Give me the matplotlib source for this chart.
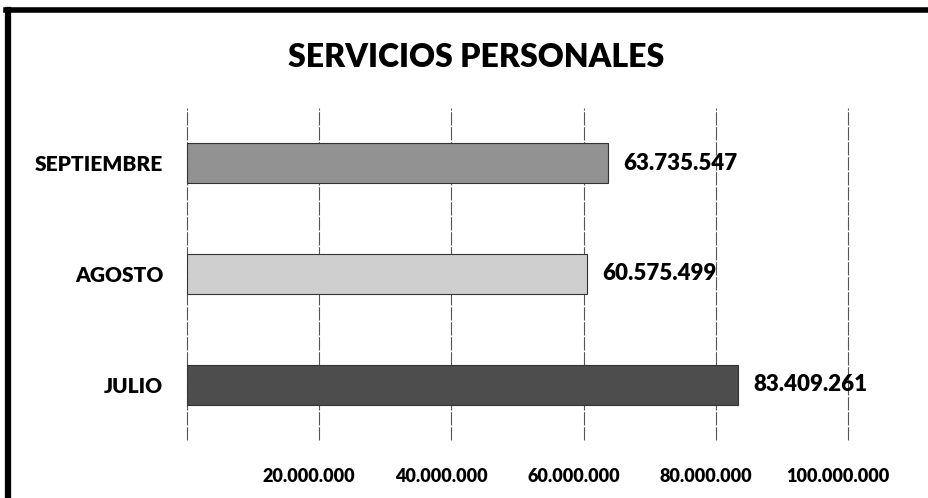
import matplotlib
matplotlib.use("Agg")
import matplotlib.pyplot as plt
import matplotlib.transforms as mtransforms
from matplotlib.lines import Line2D

# data
months = ["JULIO", "AGOSTO", "SEPTIEMBRE"]
values = [83409261, 60575499, 63735547]
bar_colors = ["#4d4d4d", "#cfcfcf", "#929292"]
ticks = [20000000, 40000000, 60000000, 80000000, 100000000]


def fmt(v):
    return f"{v:,}".replace(",", ".")


plt.rcParams["font.family"] = ["Lato", "DejaVu Sans"]

fig = plt.figure(figsize=(9.29, 4.98), dpi=100)
ax = fig.add_axes([0.2013, 0.1165, 0.7115, 0.6667])

ypos = range(len(months))
ax.barh(ypos, values, height=0.36, color=bar_colors,
        edgecolor="#333333", linewidth=0.8, zorder=3)

for y, v in zip(ypos, values):
    ax.annotate(fmt(v), (v, y), xytext=(11, 0), textcoords="offset points",
                va="center", ha="left", fontsize=16, fontweight="heavy")

ax.set_xlim(0, 100000000)
ax.set_ylim(-0.5, 2.5)
ax.set_yticks(list(ypos))
ax.set_yticklabels(months, fontsize=15, fontweight="heavy")
ax.set_xticks([0] + ticks)
ax.set_xticklabels([""] + [fmt(t) for t in ticks], fontsize=13, fontweight="heavy")
ax.tick_params(axis="both", length=0)
ax.tick_params(axis="y", pad=17)
ax.tick_params(axis="x", pad=20)

# excel puts tick labels a bit left of the gridlines
shift = mtransforms.ScaledTranslation(-10 / 100, 0, fig.dpi_scale_trans)
for lbl in ax.get_xticklabels():
    lbl.set_transform(lbl.get_transform() + shift)

ax.grid(axis="x", color="#555555", linewidth=0.8, linestyle=(0, (12, 1.5)), zorder=0)
for gl in ax.get_xgridlines():
    gl.set_clip_on(False)
for s in ax.spines.values():
    s.set_visible(False)

fig.text(0.512, 0.885, "SERVICIOS PERSONALES", ha="center", va="center",
         fontsize=23, fontweight="heavy")

# frame from the scanned sheet
fig.add_artist(Line2D([8 / 929, 8 / 929], [0, 1 - 10 / 498], color="black",
                      linewidth=4.5, transform=fig.transFigure))
fig.add_artist(Line2D([6 / 929, 1], [1 - 10.5 / 498, 1 - 10.5 / 498], color="black",
                      linewidth=4, transform=fig.transFigure))

fig.savefig("out.png", dpi=100, facecolor="white")
